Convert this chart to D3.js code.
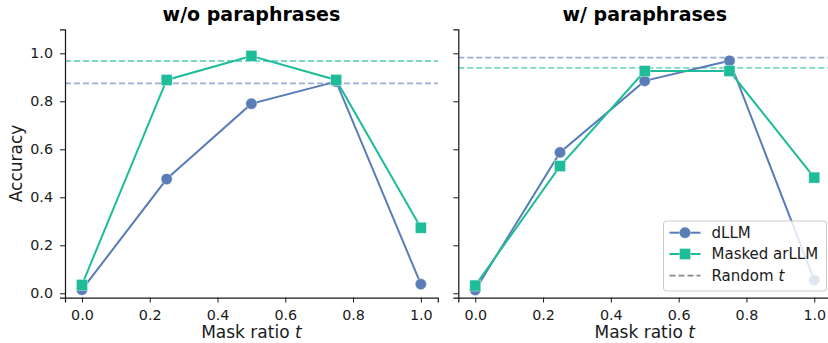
<!DOCTYPE html>
<html>
<head>
<meta charset="utf-8">
<script src="https://cdn.jsdelivr.net/npm/d3@7"></script>
<style>
  html, body { margin: 0; padding: 0; background: #fff; }
  svg { display: block; font-family: "DejaVu Sans", sans-serif; }
</style>
</head>
<body>
<svg id="chart" width="828" height="343"></svg>
<script>
// Mask ratios evaluated
const maskRatios = [0.0, 0.25, 0.5, 0.75, 1.0];

// Panel titles
const panelTitles = ["w/o paraphrases", "w/ paraphrases"];

// Accuracy per mask ratio, without paraphrases
const dllmNoPara   = [0.015, 0.476, 0.79, 0.882, 0.038];
const arllmNoPara  = [0.035, 0.889, 0.989, 0.889, 0.273];
// Accuracy under random t, without paraphrases
const randomDllmNoPara  = 0.875;
const randomArllmNoPara = 0.968;

// Accuracy per mask ratio, with paraphrases
const dllmPara   = [0.014, 0.587, 0.885, 0.969, 0.055];
const arllmPara  = [0.032, 0.530, 0.926, 0.926, 0.482];
// Accuracy under random t, with paraphrases
const randomDllmPara  = 0.982;
const randomArllmPara = 0.939;

// Axis ticks
const tickValues = [0.0, 0.2, 0.4, 0.6, 0.8, 1.0];

// Legend labels
const legendLabels = ["dLLM", "Masked arLLM", "Random "];

const BLUE = "#5a7cb7";
const GREEN = "#1fbc9a";
const INK = "#1a1a1a";

const panels = [
  { title: panelTitles[0], dllm: dllmNoPara, arllm: arllmNoPara,
    rDllm: randomDllmNoPara, rArllm: randomArllmNoPara,
    x0: 65, x1: 437.8, yLabels: true, legend: false },
  { title: panelTitles[1], dllm: dllmPara, arllm: arllmPara,
    rDllm: randomDllmPara, rArllm: randomArllmPara,
    x0: 458.3, x1: 831.2, yLabels: false, legend: true }
];

const svg = d3.select("#chart");
const y = d3.scaleLinear().domain([-0.018, 1.1]).range([297.6, 29.3]);

function square(g, cx, cy, s, color) {
  g.append("rect")
    .attr("x", cx - s / 2).attr("y", cy - s / 2)
    .attr("width", s).attr("height", s)
    .attr("fill", color)
    .attr("stroke", "#ffffff").attr("stroke-opacity", 0.5).attr("stroke-width", 0.7);
}
function circle(g, cx, cy, r, color) {
  g.append("circle")
    .attr("cx", cx).attr("cy", cy).attr("r", r)
    .attr("fill", color)
    .attr("stroke", "#ffffff").attr("stroke-opacity", 0.5).attr("stroke-width", 0.7);
}

panels.forEach(p => {
  const x = d3.scaleLinear().domain([-0.05, 1.05]).range([p.x0, p.x1]);
  const g = svg.append("g");

  // Random-t reference lines
  [[p.rDllm, BLUE], [p.rArllm, GREEN]].forEach(([v, c]) => {
    g.append("line")
      .attr("x1", p.x0).attr("x2", p.x1)
      .attr("y1", y(v)).attr("y2", y(v))
      .attr("stroke", c).attr("stroke-opacity", 0.6)
      .attr("stroke-width", 1.8)
      .attr("stroke-dasharray", "6,3");
  });

  const line = d3.line().x((d, i) => x(maskRatios[i])).y(d => y(d));

  // dLLM series
  g.append("path").datum(p.dllm)
    .attr("d", line).attr("fill", "none")
    .attr("stroke", BLUE).attr("stroke-width", 2);
  p.dllm.forEach((v, i) => circle(g, x(maskRatios[i]), y(v), 5.6, BLUE));

  // Masked arLLM series
  g.append("path").datum(p.arllm)
    .attr("d", line).attr("fill", "none")
    .attr("stroke", GREEN).attr("stroke-width", 2);
  p.arllm.forEach((v, i) => square(g, x(maskRatios[i]), y(v), 11, GREEN));

  // Axes
  const xAxis = d3.axisBottom(x).tickValues(tickValues)
    .tickFormat(d3.format(".1f")).tickSizeOuter(0).tickSize(5).tickPadding(5);
  const xg = g.append("g").attr("transform", `translate(0,${y.range()[0]})`).call(xAxis);

  const yAxis = d3.axisLeft(y).tickValues(tickValues)
    .tickFormat(p.yLabels ? d3.format(".1f") : () => "")
    .tickSizeOuter(0).tickSize(5).tickPadding(7);
  const yg = g.append("g").attr("transform", `translate(${p.x0},0)`).call(yAxis);

  [xg, yg].forEach(ax => {
    ax.select(".domain").attr("stroke", INK).attr("stroke-width", 1.25);
    ax.selectAll(".tick line").attr("stroke", INK).attr("stroke-width", 1);
    ax.selectAll(".tick text").attr("fill", INK)
      .attr("font-size", 14.3).attr("font-family", "DejaVu Sans");
  });
  xg.selectAll(".tick text").attr("dy", "0.88em");

  // Title
  g.append("text")
    .attr("x", (p.x0 + p.x1) / 2).attr("y", 21)
    .attr("text-anchor", "middle")
    .attr("font-size", 19).attr("font-weight", "bold").attr("fill", "#000")
    .text(p.title);

  // X label
  const xl = g.append("text")
    .attr("x", (p.x0 + p.x1) / 2).attr("y", 338)
    .attr("text-anchor", "middle")
    .attr("font-size", 17).attr("fill", INK)
    .text("Mask ratio ");
  xl.append("tspan").attr("font-style", "italic").text("t");

  if (p.yLabels) {
    g.append("text")
      .attr("transform", `translate(22,${(y.range()[0] + y.range()[1]) / 2}) rotate(-90)`)
      .attr("text-anchor", "middle")
      .attr("font-size", 17).attr("fill", INK)
      .text("Accuracy");
  }

  if (p.legend) {
    const lg = svg.append("g");
    const lx = 663.5, ly = 221, lw = 163, lh = 70;
    lg.append("rect")
      .attr("x", lx).attr("y", ly).attr("width", lw).attr("height", lh)
      .attr("rx", 3).attr("ry", 3)
      .attr("fill", "#ffffff").attr("fill-opacity", 0.82)
      .attr("stroke", "#cccccc").attr("stroke-width", 1);
    const rows = [232.7, 254, 275.7];
    const hx0 = lx + 6, hx1 = lx + 37, tx = lx + 48;
    const entries = [
      { label: legendLabels[0], color: BLUE, marker: "circle" },
      { label: legendLabels[1], color: GREEN, marker: "square" },
      { label: legendLabels[2], color: "#888888", marker: null }
    ];
    entries.forEach((e, i) => {
      const cy = rows[i];
      lg.append("line")
        .attr("x1", hx0).attr("x2", hx1).attr("y1", cy).attr("y2", cy)
        .attr("stroke", e.color).attr("stroke-width", e.marker ? 2 : 1.8)
        .attr("stroke-dasharray", e.marker ? null : "6,3");
      if (e.marker === "circle") circle(lg, (hx0 + hx1) / 2, cy, 5.6, e.color);
      if (e.marker === "square") square(lg, (hx0 + hx1) / 2, cy, 11, e.color);
      const t = lg.append("text")
        .attr("x", tx).attr("y", cy + 5.2)
        .attr("font-size", 15).attr("fill", INK)
        .text(e.label);
      if (!e.marker) t.append("tspan").attr("font-style", "italic").text("t");
    });
  }
});
</script>
</body>
</html>
